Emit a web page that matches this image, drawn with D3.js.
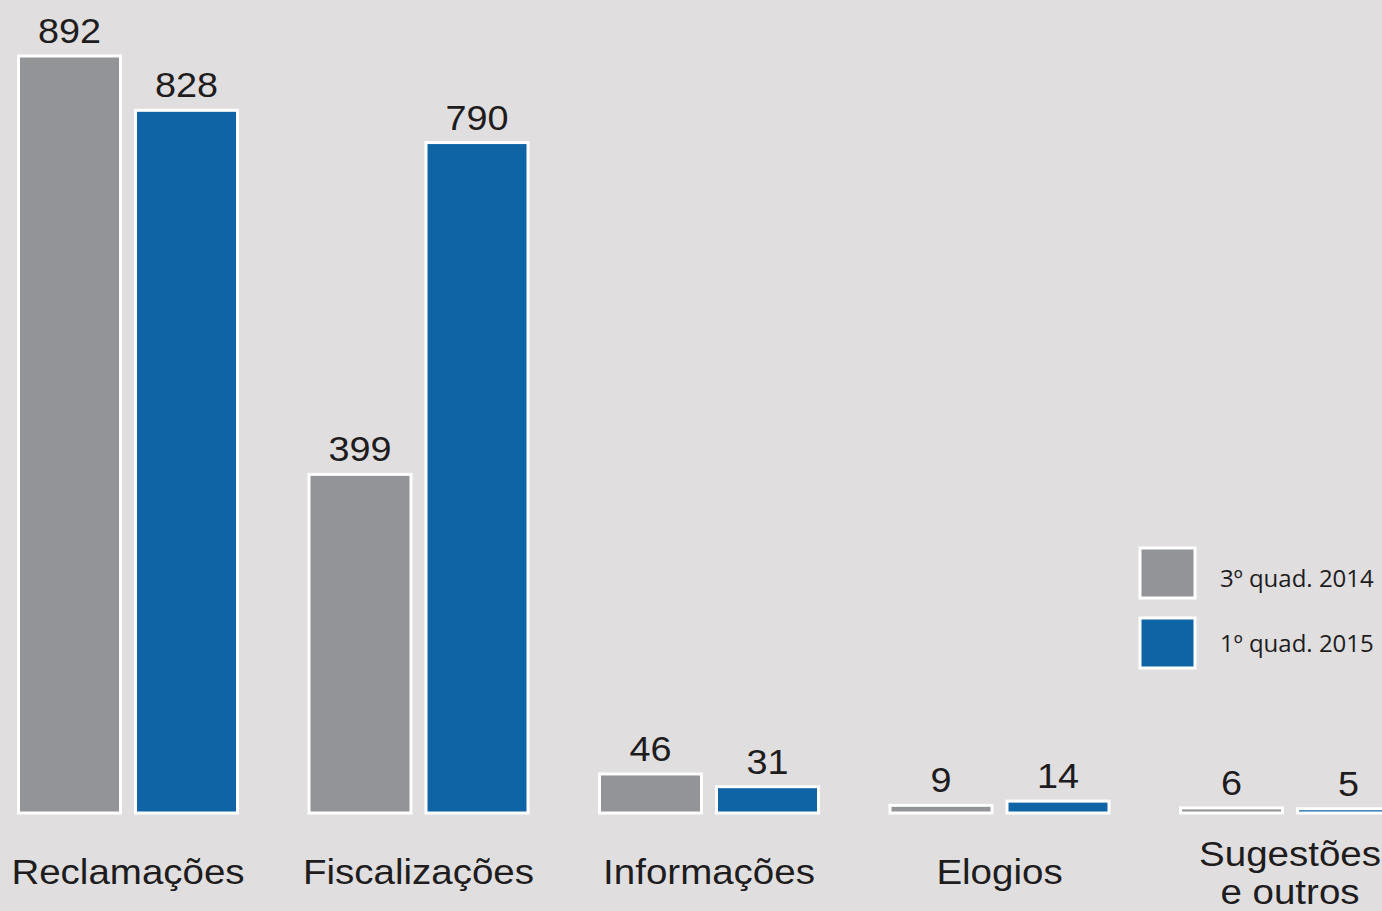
<!DOCTYPE html>
<html><head><meta charset="utf-8">
<script src="https://cdn.jsdelivr.net/npm/d3@7"></script>
<style>
html,body{margin:0;padding:0;background:#e0dedf;overflow:hidden;}
svg{display:block;}
</style></head>
<body>
<svg id="chart" width="1382" height="911"></svg>
<script>
const categories = ["Reclamações", "Fiscalizações", "Informações", "Elogios", "Sugestões e outros"];
const seriesNames = ["3º quad. 2014", "1º quad. 2015"];
const values2014 = [892, 399, 46, 9, 6];
const values2015 = [828, 790, 31, 14, 5];
const colors = ["#939497", "#0f64a6"];

const svg = d3.select("#chart");
svg.append("rect").attr("width", 1382).attr("height", 911).attr("fill", "#e0dedf");

const x = d3.scaleBand().domain(categories).range([17, 1401]).paddingInner(0.2358).paddingOuter(0);
const xs = d3.scaleBand().domain(seriesNames).range([0, x.bandwidth()]).paddingInner(0.1026);
const y = d3.scaleLinear().domain([0, 892]).range([813, 56]);

const data = categories.map((c, i) => ({cat: c, vals: [values2014[i], values2015[i]]}));

const g = svg.append("g").selectAll("g").data(data).join("g")
  .attr("transform", d => `translate(${x(d.cat)},0)`);

g.selectAll("rect").data(d => d.vals.map((v, j) => ({v, s: seriesNames[j], j})))
  .join("rect")
  .attr("x", d => xs(d.s) + 1.5)
  .attr("width", xs.bandwidth() - 3)
  .attr("y", d => y(d.v))
  .attr("height", d => Math.max(1.5, y(0) - y(d.v)))
  .attr("fill", d => colors[d.j])
  .attr("stroke", "#ffffff")
  .attr("stroke-width", 3);

g.selectAll("text.val").data(d => d.vals.map((v, j) => ({v, s: seriesNames[j], j})))
  .join("text").attr("class", "val")
  .attr("transform", d => `translate(${xs(d.s) + xs.bandwidth() / 2},${y(d.v) - 13}) scale(1.08,1)`)
  .attr("text-anchor", "middle")
  .attr("font-family", "Liberation Sans, Arial, sans-serif")
  .attr("font-size", 35)
  .attr("fill", "#1e1c1d")
  .text(d => d.v);

// category labels
g.append("text")
  .attr("transform", `translate(${x.bandwidth() / 2},0) scale(1.1,1)`)
  .attr("text-anchor", "middle")
  .attr("font-family", "Liberation Sans, Arial, sans-serif")
  .attr("font-size", 35)
  .attr("fill", "#1e1c1d")
  .each(function(d) {
    const t = d3.select(this);
    if (d.cat === "Sugestões e outros") {
      t.append("tspan").attr("x", 0).attr("y", 866).text("Sugestões");
      t.append("tspan").attr("x", 0).attr("y", 904).text("e outros");
    } else {
      t.attr("y", 884).text(d.cat);
    }
  });

// legend
const leg = svg.append("g").attr("transform", "translate(1140,548)");
const li = leg.selectAll("g").data(seriesNames).join("g");
li.append("rect").attr("y", (d, i) => i * 70).attr("width", 55).attr("height", 50)
  .attr("fill", (d, i) => colors[i]).attr("stroke", "#ffffff").attr("stroke-width", 3);
li.append("text")
  .attr("transform", (d, i) => `translate(80,${39 + i * 65})`)
  .attr("font-family", "Open Sans, Noto Sans, sans-serif")
  .attr("font-size", 24)
  .attr("fill", "#1e1c1d")
  .text(d => d);
</script>
</body></html>
